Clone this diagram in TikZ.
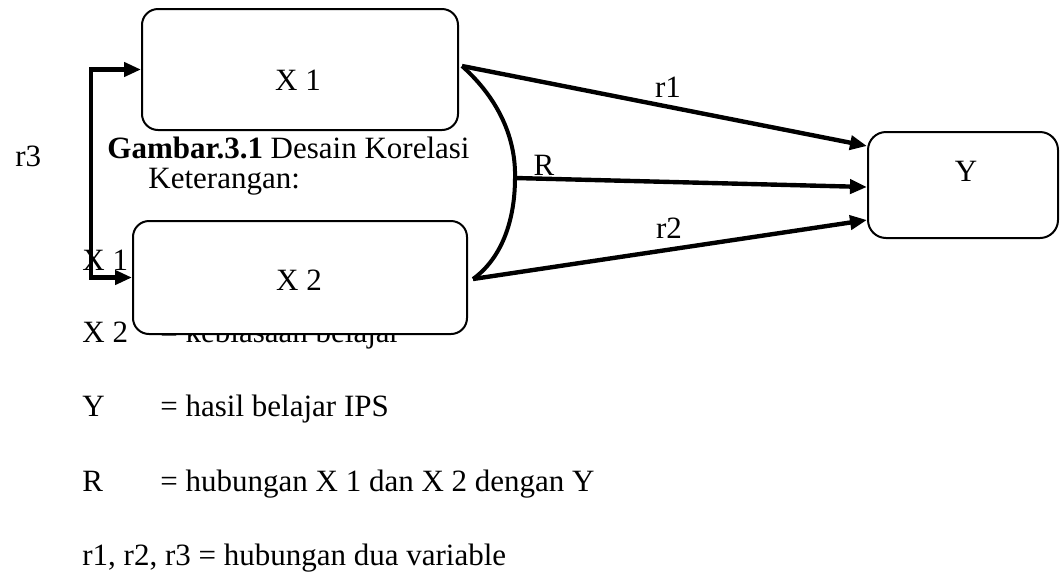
\documentclass[tikz,border=0pt]{standalone}
\usepackage{fontspec}
\setmainfont{Liberation Serif}
\usetikzlibrary{arrows.meta}

\begin{document}
\begin{tikzpicture}[x=0.5pt,y=-0.5pt,>={Triangle[length=8.5pt,width=7pt]},
  font=\fontsize{15.5}{18}\selectfont,
  var/.style={draw,fill=white,line width=1pt,rounded corners=8pt,inner sep=0pt},
  link/.style={line width=2.2pt,->},
  txt/.style={anchor=base west,inner sep=0pt}]
\useasboundingbox (0,0) rectangle (1060,574);

% keterangan
\node[txt] (cap) at (107,158) {\textbf{Gambar.3.1} Desain Korelasi};
\node[txt] (ket) at (148,188) {Keterangan:};
\node[txt] (kx1) at (82,270) {X 1};
\node[txt] (kx2) at (82,342) {X 2};
\node[txt] (ex2) at (160,342) {= kebiasaan belajar};
\node[txt] (ky) at (82,416) {Y};
\node[txt] (ey) at (160,416) {= hasil belajar IPS};
\node[txt] (kr) at (82,491) {R};
\node[txt] (er) at (160,491) {= hubungan X 1 dan X 2 dengan Y};
\node[txt] (kri) at (82,565) {r1, r2, r3 = hubungan dua variable};

% variabel
\node[var,minimum width=158pt,minimum height=60.5pt] (x1) at (300,69.5) {};
\node (x1t) at (298,80) {X 1};
\node[var,minimum width=167pt,minimum height=56.5pt] (x2) at (300,277.5) {};
\node (x2t) at (299,280) {X 2};
\node[var,minimum width=95pt,minimum height=53pt,rounded corners=9pt] (y) at (963,185) {};
\node (yt) at (966,171) {Y};

% korelasi
\coordinate (a) at (462,66);
\coordinate (b) at (515,178);
\coordinate (c) at (473,279);
\draw[line width=2pt] (a) .. controls (500,100) and (516,140) .. (b)
  .. controls (515,220) and (502,258) .. (c);
\draw[link] (a) -- ([yshift=19.5pt]y.west);
\draw[link] (b) -- ([yshift=-1pt]y.west);
\draw[link] (c) -- ([yshift=-17.5pt]y.west);
\draw[link,<->] (x1.west) -- ++(-50,0) |- (x2.west);

\node (r1) at (668,87) {r1};
\node (rr) at (544,165) {R};
\node (r2) at (669,228) {r2};
\node[txt] (r3) at (15,166) {r3};
\end{tikzpicture}
\end{document}
